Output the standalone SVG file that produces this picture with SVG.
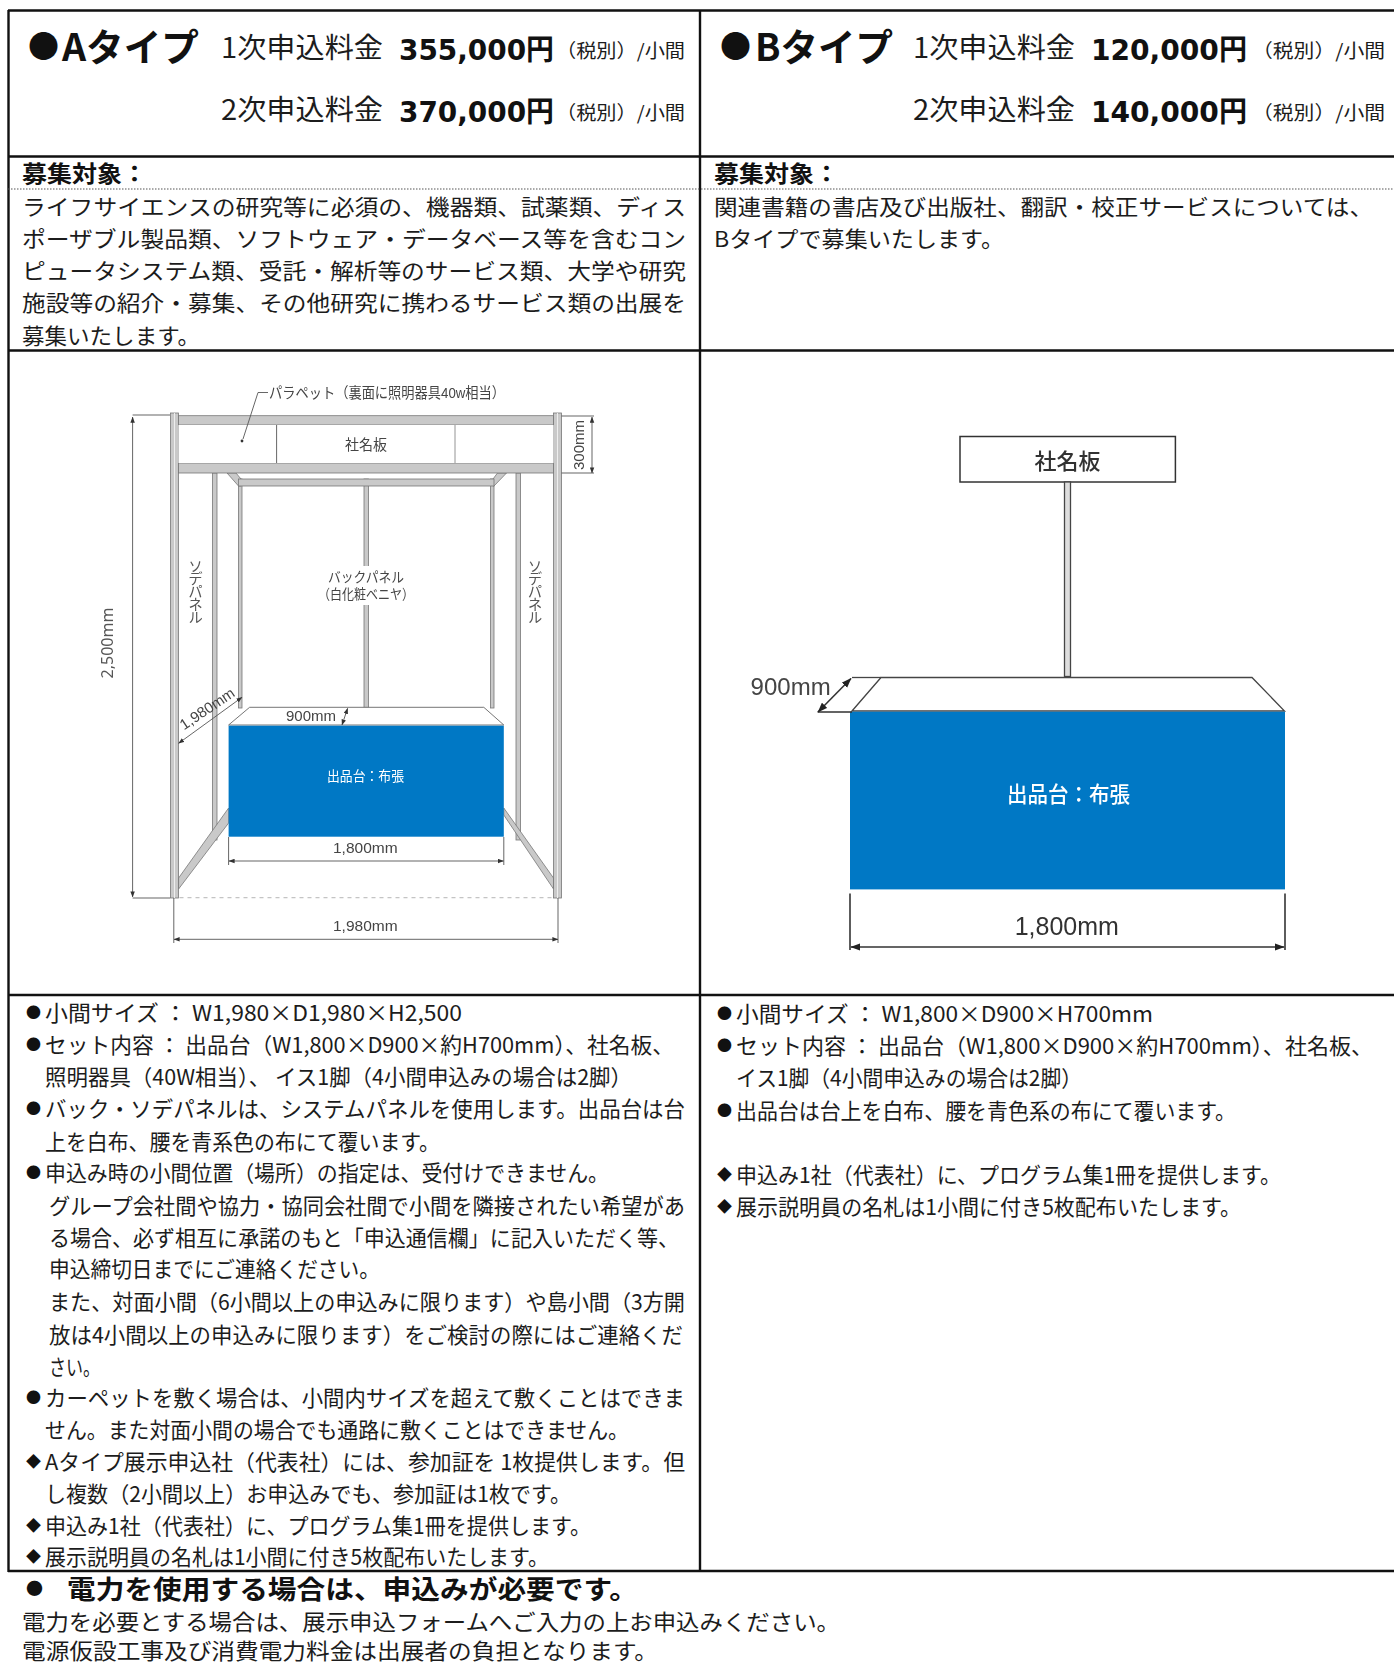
<svg xmlns="http://www.w3.org/2000/svg" width="1394" height="1663" viewBox="0 0 1394 1663">
<style>
text{font-family:"Noto Sans CJK JP","Noto Sans",sans-serif;fill:#1c1c1c}
.b{font-size:22px}
.m{font-size:15px;fill:#111}
.hd{font-size:23px;font-weight:700;fill:#111}
.ty{font-size:38px;font-weight:700;fill:#111}
.tm{font-size:31px;fill:#111}
.ap{font-size:28px}
.pr{font-size:29px;font-weight:700;fill:#111;font-family:"DejaVu Sans","Noto Sans CJK JP",sans-serif}
.sm{font-size:19px}
.d{font-family:"Liberation Sans","Noto Sans CJK JP",sans-serif;fill:#444}
.v{font-size:14.5px;letter-spacing:-1.8px;fill:#555}
.dj{fill:#555}
.w{fill:#fff}
.grid{stroke:#111;stroke-width:2.4;fill:none}
.dim{stroke:#555;stroke-width:.9;fill:none}
.dimb{stroke:#333;stroke-width:1.6;fill:none}
.ar{marker-start:url(#a);marker-end:url(#a)}
.arb{marker-start:url(#ab);marker-end:url(#ab)}
.fr{fill:#c9c9c9;stroke:#777;stroke-width:.8}
.blue{fill:#0078c5}
</style>
<defs>
<marker id="a" viewBox="0 0 8 6" refX="7.5" refY="3" markerWidth="6" markerHeight="5" markerUnits="userSpaceOnUse" orient="auto-start-reverse"><path d="M0 0L8 3L0 6Z" fill="#333"/></marker>
<marker id="ab" viewBox="0 0 8 6" refX="7.5" refY="3" markerWidth="10" markerHeight="8" markerUnits="userSpaceOnUse" orient="auto-start-reverse"><path d="M0 0L8 3L0 6Z" fill="#222"/></marker>
<filter id="soft" x="-5%" y="-5%" width="110%" height="110%"><feGaussianBlur stdDeviation=".35"/></filter>
</defs>
<rect width="1394" height="1663" fill="#fff"/>

<g id="table-grid">
<path class="grid" d="M8 10.5H1394M8 156.5H1394M8 350.5H1394M8 995H1394M8 1571H1394M8.5 10V1572M700 10V1572"/>
<path d="M8 189H1394" stroke="#555" stroke-width="1.2" stroke-dasharray="1.5 1.5" fill="none"/>
</g>

<g id="type-a-header">
<text class="tm" x="28" y="57">●</text>
<text class="ty" x="62" y="61" textLength="137" lengthAdjust="spacingAndGlyphs">Aタイプ</text>
<text class="ap" x="221" y="58" textLength="162" lengthAdjust="spacingAndGlyphs">1次申込料金</text>
<text class="pr" x="399" y="60" textLength="155" lengthAdjust="spacingAndGlyphs">355,000円</text>
<text class="sm" x="556" y="58" textLength="129" lengthAdjust="spacingAndGlyphs">（税別）/小間</text>
<text class="ap" x="221" y="120" textLength="162" lengthAdjust="spacingAndGlyphs">2次申込料金</text>
<text class="pr" x="399" y="122" textLength="155" lengthAdjust="spacingAndGlyphs">370,000円</text>
<text class="sm" x="556" y="120" textLength="129" lengthAdjust="spacingAndGlyphs">（税別）/小間</text>
</g>
<g id="type-b-header">
<text class="tm" x="720" y="57">●</text>
<text class="ty" x="755" y="61" textLength="138" lengthAdjust="spacingAndGlyphs">Bタイプ</text>
<text class="ap" x="913" y="58" textLength="162" lengthAdjust="spacingAndGlyphs">1次申込料金</text>
<text class="pr" x="1091" y="60" textLength="156" lengthAdjust="spacingAndGlyphs">120,000円</text>
<text class="sm" x="1252" y="58" textLength="133" lengthAdjust="spacingAndGlyphs">（税別）/小間</text>
<text class="ap" x="913" y="120" textLength="162" lengthAdjust="spacingAndGlyphs">2次申込料金</text>
<text class="pr" x="1091" y="122" textLength="156" lengthAdjust="spacingAndGlyphs">140,000円</text>
<text class="sm" x="1252" y="120" textLength="133" lengthAdjust="spacingAndGlyphs">（税別）/小間</text>
</g>

<g id="type-a-target">
<text class="hd" x="22" y="182" textLength="125" lengthAdjust="spacingAndGlyphs">募集対象：</text>
<text class="b" x="22" y="215" textLength="664" lengthAdjust="spacingAndGlyphs">ライフサイエンスの研究等に必須の、機器類、試薬類、ディス</text>
<text class="b" x="22" y="247" textLength="664" lengthAdjust="spacingAndGlyphs">ポーザブル製品類、ソフトウェア・データベース等を含むコン</text>
<text class="b" x="22" y="279" textLength="664" lengthAdjust="spacingAndGlyphs">ピュータシステム類、受託・解析等のサービス類、大学や研究</text>
<text class="b" x="22" y="311" textLength="664" lengthAdjust="spacingAndGlyphs">施設等の紹介・募集、その他研究に携わるサービス類の出展を</text>
<text class="b" x="22" y="344" textLength="178" lengthAdjust="spacingAndGlyphs">募集いたします。</text>
</g>
<g id="type-b-target">
<text class="hd" x="714" y="182" textLength="125" lengthAdjust="spacingAndGlyphs">募集対象：</text>
<text class="b" x="714" y="215" textLength="659" lengthAdjust="spacingAndGlyphs">関連書籍の書店及び出版社、翻訳・校正サービスについては、</text>
<text class="b" x="714" y="247" textLength="290" lengthAdjust="spacingAndGlyphs">Bタイプで募集いたします。</text>
</g>

<g id="type-a-figure" filter="url(#soft)">
<rect class="fr" x="238.5" y="479" width="3.5" height="229"/>
<rect class="fr" x="490.5" y="479" width="3.5" height="229"/>
<rect class="fr" x="364" y="479" width="4.5" height="229"/>
<path class="fr" d="M227 473H236L241 479V486H238.5ZM506.5 473H497.5L493 479V486H494Z"/>
<rect class="fr" x="238.5" y="479" width="255.5" height="7"/>
<rect class="fr" x="212.5" y="473" width="4.5" height="367"/>
<rect class="fr" x="516" y="473" width="4.5" height="367"/>
<path class="fr" d="M178.6 878L228.6 808V823L178.6 889ZM553.5 878L503.8 808V815L553.5 889Z"/>
<rect class="fr" x="170.5" y="413" width="8" height="485"/>
<rect class="fr" x="553.5" y="413" width="8" height="485"/>
<path d="M174.5 413V898M557.5 413V898" stroke="#eee" stroke-width="1"/>
<rect class="fr" x="178.5" y="415.7" width="375" height="9.3"/>
<rect class="fr" x="178.5" y="463" width="375" height="10"/>
<rect x="178.5" y="425" width="375" height="38" fill="#fff"/>
<path d="M276.6 425V463" stroke="#555" stroke-width=".9"/>
<path d="M455 425V463" stroke="#888" stroke-width=".9"/>
<path d="M179.5 897.7H553" stroke="#c4c4c4" stroke-width="1.3" stroke-dasharray="4 4" fill="none"/>
<rect x="354" y="566" width="26" height="39" fill="#fff"/>
<path d="M228.6 725L249.6 707.3H483.8L503.8 725Z" fill="#fff" stroke="#666" stroke-width=".9"/>
<rect class="blue" x="228.6" y="725.7" width="275.2" height="111"/>
<text class="d" font-size="15" x="269" y="398" textLength="236" lengthAdjust="spacingAndGlyphs">パラペット（裏面に照明器具40w相当）</text>
<text class="d" font-size="14.5" x="345" y="450" textLength="42" lengthAdjust="spacingAndGlyphs">社名板</text>
<text class="d" font-size="14" x="328" y="582" textLength="76" lengthAdjust="spacingAndGlyphs">バックパネル</text>
<text class="d" font-size="14" x="318" y="599" textLength="96" lengthAdjust="spacingAndGlyphs">（白化粧ベニヤ）</text>
<text class="v" x="195.5" y="559" writing-mode="vertical-rl">ソデパネル</text>
<text class="v" x="535" y="559" writing-mode="vertical-rl">ソデパネル</text>
<text class="d" font-size="15" transform="translate(584 445) rotate(-90)" text-anchor="middle">300mm</text>
<text class="dj" font-size="16" transform="translate(113 643) rotate(-90)" text-anchor="middle" style="font-family:'Noto Sans',sans-serif">2,500mm</text>
<text class="d" font-size="15" transform="translate(210 713) rotate(-34)" text-anchor="middle">1,980mm</text>
<text class="d" font-size="15" x="286" y="721">900mm</text>
<text font-size="13.5" class="w" x="327" y="781" textLength="77" lengthAdjust="spacingAndGlyphs">出品台：布張</text>
<text class="d" font-size="15.5" x="333" y="853">1,800mm</text>
<text class="d" font-size="15.5" x="333" y="931">1,980mm</text>
</g>

<g id="type-b-figure" filter="url(#soft)">
<rect x="960" y="436.5" width="215.4" height="45.5" fill="#fff" stroke="#333" stroke-width="1.5"/>
<rect x="1064.5" y="482" width="6" height="194.5" fill="#ddd" stroke="#444" stroke-width="1.3"/>
<path d="M852 711L881 677.5H1252L1284.5 711Z" fill="#fff" stroke="#444" stroke-width="1.3"/>
<path d="M852 677.5H881" stroke="#444" stroke-width="1.3"/>
<rect class="blue" x="850" y="711.7" width="435" height="177.7"/>
<text font-size="22" font-weight="500" x="1034.6" y="469" textLength="66" lengthAdjust="spacingAndGlyphs" style="fill:#333">社名板</text>
<text class="d" font-size="24" x="750.6" y="695">900mm</text>
<text class="w" font-size="22" font-weight="500" x="1007" y="802" textLength="123" lengthAdjust="spacingAndGlyphs">出品台：布張</text>
<text class="d" font-size="25" x="1014.7" y="935" style="fill:#333">1,800mm</text>
</g>

<g id="connectors" filter="url(#soft)">
<path class="dim" d="M268 392.5H258L243 439"/>
<circle cx="242" cy="441" r="1.4" fill="#333"/>
<path class="dim" d="M132.6 415H170M132.6 898H170M561.5 416H594M561.5 473H594M173.8 898V943M558 898V943M228.6 837V865M503.8 837V865"/>
<path class="dim ar" d="M132.6 417V897"/>
<path class="dim ar" d="M592 417V473"/>
<path class="dim ar" d="M229 861H503.5"/>
<path class="dim ar" d="M174 939.3H558"/>
<path class="dim ar" d="M178.6 743.3L242 697.3"/>
<path class="dim ar" d="M342 725L347.6 708.3"/>
<path class="dimb" d="M817.6 712H852M850 893.5V950M1285 893.5V950"/>
<path class="dimb arb" d="M851 678.5L818 712"/>
<path class="dimb arb" d="M851 947H1284"/>
</g>

<g id="type-a-notes">
<text class="m" x="26" y="1018">●</text><text class="b" x="45" y="1021" textLength="417" lengthAdjust="spacingAndGlyphs">小間サイズ ： W1,980×D1,980×H2,500</text>
<text class="m" x="26" y="1050">●</text><text class="b" x="45" y="1053" textLength="629" lengthAdjust="spacingAndGlyphs">セット内容 ： 出品台（W1,800×D900×約H700mm）、社名板、</text>
<text class="b" x="45" y="1085" textLength="587" lengthAdjust="spacingAndGlyphs">照明器具（40W相当）、 イス1脚（4小間申込みの場合は2脚）</text>
<text class="m" x="26" y="1114">●</text><text class="b" x="45" y="1117" textLength="640" lengthAdjust="spacingAndGlyphs">バック・ソデパネルは、システムパネルを使用します。出品台は台</text>
<text class="b" x="45" y="1150" textLength="395" lengthAdjust="spacingAndGlyphs">上を白布、腰を青系色の布にて覆います。</text>
<text class="m" x="26" y="1178">●</text><text class="b" x="45" y="1181" textLength="564" lengthAdjust="spacingAndGlyphs">申込み時の小間位置（場所）の指定は、受付けできません。</text>
<text class="b" x="49" y="1214" textLength="636" lengthAdjust="spacingAndGlyphs">グループ会社間や協力・協同会社間で小間を隣接されたい希望があ</text>
<text class="b" x="49" y="1246" textLength="630" lengthAdjust="spacingAndGlyphs">る場合、必ず相互に承諾のもと「申込通信欄」に記入いただく等、</text>
<text class="b" x="49" y="1277" textLength="331" lengthAdjust="spacingAndGlyphs">申込締切日までにご連絡ください。</text>
<text class="b" x="49" y="1310" textLength="636" lengthAdjust="spacingAndGlyphs">また、対面小間（6小間以上の申込みに限ります）や島小間（3方開</text>
<text class="b" x="49" y="1343" textLength="634" lengthAdjust="spacingAndGlyphs">放は4小間以上の申込みに限ります）をご検討の際にはご連絡くだ</text>
<text class="b" x="49" y="1375" textLength="51" lengthAdjust="spacingAndGlyphs">さい。</text>
<text class="m" x="26" y="1403">●</text><text class="b" x="45" y="1406" textLength="640" lengthAdjust="spacingAndGlyphs">カーペットを敷く場合は、小間内サイズを超えて敷くことはできま</text>
<text class="b" x="45" y="1438" textLength="584" lengthAdjust="spacingAndGlyphs">せん。また対面小間の場合でも通路に敷くことはできません。</text>
<text class="m" x="26" y="1467">◆</text><text class="b" x="45" y="1470" textLength="640" lengthAdjust="spacingAndGlyphs">Aタイプ展示申込社（代表社）には、参加証を 1枚提供します。但</text>
<text class="b" x="45" y="1502" textLength="526" lengthAdjust="spacingAndGlyphs">し複数（2小間以上）お申込みでも、参加証は1枚です。</text>
<text class="m" x="26" y="1531">◆</text><text class="b" x="45" y="1534" textLength="546" lengthAdjust="spacingAndGlyphs">申込み1社（代表社）に、プログラム集1冊を提供します。</text>
<text class="m" x="26" y="1562">◆</text><text class="b" x="45" y="1565" textLength="504" lengthAdjust="spacingAndGlyphs">展示説明員の名札は1小間に付き5枚配布いたします。</text>
</g>
<g id="type-b-notes">
<text class="m" x="717" y="1019">●</text><text class="b" x="736" y="1022" textLength="417" lengthAdjust="spacingAndGlyphs">小間サイズ ： W1,800×D900×H700mm</text>
<text class="m" x="717" y="1051">●</text><text class="b" x="736" y="1054" textLength="637" lengthAdjust="spacingAndGlyphs">セット内容 ： 出品台（W1,800×D900×約H700mm）、社名板、</text>
<text class="b" x="736" y="1086" textLength="346" lengthAdjust="spacingAndGlyphs">イス1脚（4小間申込みの場合は2脚）</text>
<text class="m" x="717" y="1116">●</text><text class="b" x="736" y="1119" textLength="500" lengthAdjust="spacingAndGlyphs">出品台は台上を白布、腰を青色系の布にて覆います。</text>
<text class="m" x="717" y="1180">◆</text><text class="b" x="736" y="1183" textLength="545" lengthAdjust="spacingAndGlyphs">申込み1社（代表社）に、プログラム集1冊を提供します。</text>
<text class="m" x="717" y="1212">◆</text><text class="b" x="736" y="1215" textLength="505" lengthAdjust="spacingAndGlyphs">展示説明員の名札は1小間に付き5枚配布いたします。</text>
</g>
<g id="power-note">
<text x="26" y="1595" font-size="17" style="fill:#111">●</text>
<text x="67" y="1599" font-size="26" font-weight="700" style="fill:#111" textLength="571" lengthAdjust="spacingAndGlyphs">電力を使用する場合は、申込みが必要です。</text>
<text class="b" x="22" y="1630" textLength="818" lengthAdjust="spacingAndGlyphs">電力を必要とする場合は、展示申込フォームへご入力の上お申込みください。</text>
<text class="b" x="22" y="1659" textLength="636" lengthAdjust="spacingAndGlyphs">電源仮設工事及び消費電力料金は出展者の負担となります。</text>
</g>
</svg>
